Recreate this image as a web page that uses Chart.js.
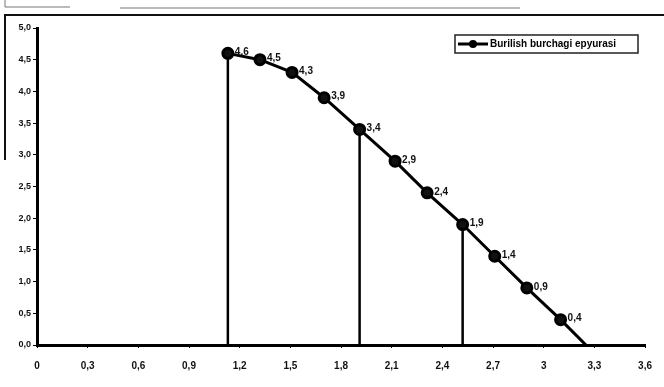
<!DOCTYPE html>
<html>
<head>
<meta charset="utf-8">
<script src="https://cdn.jsdelivr.net/npm/chart.js@4.4.1/dist/chart.umd.min.js"></script>
<style>
  * { margin: 0; padding: 0; box-sizing: border-box; }
  body { width: 664px; height: 387px; background: #fff; overflow: hidden; }
  #wrap { position: relative; width: 664px; height: 387px; }
</style>
</head>
<body>
<div id="wrap"><canvas id="chart" width="664" height="387"></canvas></div>
<script>
// values
const xValues = [1.13, 1.32, 1.51, 1.70, 1.91, 2.12, 2.31, 2.52, 2.71, 2.90, 3.10, 3.25];
const yValues = [4.6, 4.5, 4.3, 3.9, 3.4, 2.9, 2.4, 1.9, 1.4, 0.9, 0.4, 0];
const pointLabels = ['4,6', '4,5', '4,3', '3,9', '3,4', '2,9', '2,4', '1,9', '1,4', '0,9', '0,4', ''];
const dropX = [1.13, 1.91, 2.52];
const dropTop = [4.6, 3.4, 1.9];
const seriesName = 'Burilish burchagi epyurasi';

const FONT = '"Liberation Sans Narrow", "Liberation Sans", Arial, sans-serif';

const comma = v => {
  const r = Math.round(v * 10) / 10;
  return String(r).replace('.', ',');
};

const mainData = xValues.map((x, i) => ({x: x, y: yValues[i]}));

const datasets = [{
  label: seriesName,
  data: mainData,
  showLine: true,
  borderColor: '#000',
  backgroundColor: '#000',
  borderWidth: 3,
  pointRadius: mainData.map((p, i) => pointLabels[i] ? 5 : 0),
  pointBackgroundColor: '#111',
  pointBorderColor: '#000',
  tension: 0,
}];
dropX.forEach((x, i) => {
  datasets.push({
    label: 'drop' + i,
    data: [{x: x, y: 0}, {x: x, y: dropTop[i]}],
    showLine: true,
    borderColor: '#000',
    borderWidth: 2.5,
    pointRadius: 0,
  });
});

// value labels next to the markers
const labelPlugin = {
  id: 'pointLabels',
  afterDatasetsDraw(chart) {
    const ctx = chart.ctx;
    const meta = chart.getDatasetMeta(0);
    ctx.save();
    ctx.fillStyle = '#111';
    ctx.font = 'bold 10px ' + FONT;
    ctx.textBaseline = 'middle';
    meta.data.forEach((el, i) => {
      if (!pointLabels[i]) return;
      ctx.fillText(pointLabels[i], el.x + 7, el.y - 1);
    });
    ctx.restore();
  }
};

// legend box inside the plot + scan frame remnants
const decorPlugin = {
  id: 'decor',
  afterDraw(chart) {
    const ctx = chart.ctx;
    ctx.save();
    // frame
    ctx.strokeStyle = '#111';
    ctx.lineWidth = 2;
    ctx.beginPath();
    ctx.moveTo(5, 15); ctx.lineTo(664, 15);
    ctx.moveTo(5, 14); ctx.lineTo(5, 160);
    ctx.stroke();
    ctx.strokeStyle = '#777';
    ctx.lineWidth = 1;
    ctx.beginPath();
    ctx.moveTo(5, 0); ctx.lineTo(5, 7); ctx.lineTo(70, 7);
    ctx.moveTo(120, 8); ctx.lineTo(520, 8);
    ctx.stroke();

    // legend
    const bx = 455, by = 35, bw = 183, bh = 18;
    ctx.strokeStyle = '#222';
    ctx.lineWidth = 1.5;
    ctx.strokeRect(bx, by, bw, bh);
    ctx.strokeStyle = '#000';
    ctx.lineWidth = 3;
    ctx.beginPath();
    ctx.moveTo(bx + 3, by + 9); ctx.lineTo(bx + 33, by + 9);
    ctx.stroke();
    ctx.fillStyle = '#000';
    ctx.beginPath();
    ctx.arc(bx + 18, by + 9, 4, 0, Math.PI * 2);
    ctx.fill();
    ctx.font = 'bold 10px ' + FONT;
    ctx.textBaseline = 'middle';
    ctx.fillText(seriesName, bx + 35, by + 9.5);
    ctx.restore();
  }
};

new Chart(document.getElementById('chart'), {
  type: 'scatter',
  data: {datasets: datasets},
  options: {
    responsive: false,
    animation: false,
    layout: {padding: {left: 0, right: 16, top: 28, bottom: 0}},
    plugins: {
      legend: {display: false},
      tooltip: {enabled: false},
    },
    scales: {
      x: {
        type: 'linear',
        min: 0,
        max: 3.6,
        afterFit: s => { s.height = 42; },
        border: {display: true, color: '#000', width: 3},
        grid: {display: true, drawOnChartArea: false, drawTicks: true, tickLength: 3, color: '#000'},
        ticks: {
          stepSize: 0.3,
          color: '#111',
          font: {family: FONT, size: 10, weight: 'bold'},
          padding: 12,
          maxRotation: 0,
          callback: v => comma(v),
        },
      },
      y: {
        type: 'linear',
        min: 0,
        max: 5,
        afterFit: s => { s.width = 37; },
        border: {display: true, color: '#000', width: 3},
        grid: {display: true, drawOnChartArea: false, drawTicks: true, tickLength: 4, color: '#000'},
        ticks: {
          stepSize: 0.5,
          color: '#111',
          font: {family: FONT, size: 9, weight: 'bold'},
          padding: 2,
          callback: v => (Math.round(v * 10) / 10).toFixed(1).replace('.', ','),
        },
      },
    },
  },
  plugins: [labelPlugin, decorPlugin],
});
</script>
</body>
</html>
